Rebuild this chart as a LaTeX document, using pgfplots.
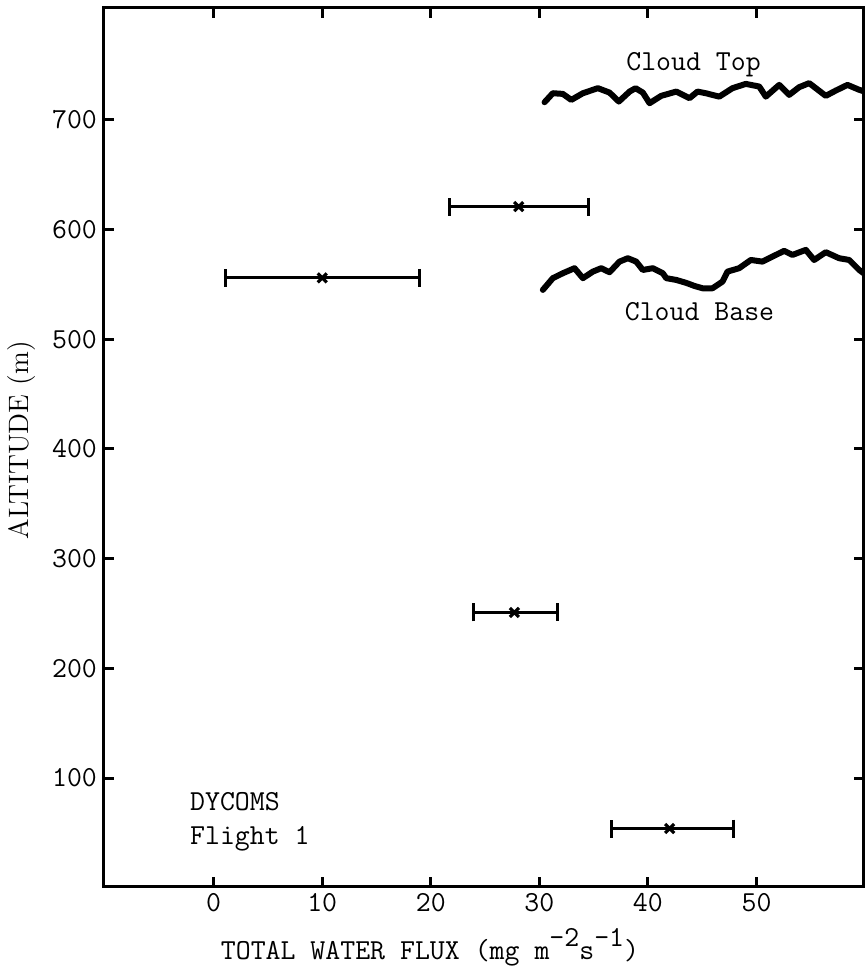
\documentclass[border=0pt]{standalone}
\usepackage{fontspec}
\usepackage{pgfplots}
\pgfplotsset{compat=1.18}
\newcommand{\tw}{\ttfamily\fontsize{14.5}{16.5}\selectfont}
\begin{document}
\begin{tikzpicture}
\begin{axis}[
  at={(0,0)}, anchor=south west,
  width=380pt, height=439.35pt, scale only axis,
  xmin=-10.1, xmax=59.9, ymin=1, ymax=802,
  axis line style={line width=1.5pt},
  xtick={0,10,...,50}, ytick={100,200,...,700},
  tick align=inside, major tick length=5pt,
  tick style={line width=1.5pt, black},
  /pgf/number format/assume math mode=true,
  ticklabel style={font=\tw},
  clip=false,
]
% Cloud top
\addplot[line width=3pt, line join=round, line cap=round] coordinates {
(30.48,716.1) (31.24,724.3) (32.16,723.7) (32.94,718.2) (34.01,724.3)
(35.39,728.9) (36.46,724.9) (37.32,716.7) (38.31,725.8) (38.86,728.9)
(39.53,724.9) (40.15,715.2) (41.22,721.9) (42.61,725.8) (43.83,719.8)
(44.57,725.8) (45.33,724.3) (46.57,721.2) (47.79,728.9) (49.01,732.8)
(50.25,730.4) (50.86,721.2) (52.09,731.9) (53.01,722.8) (53.93,729.8)
(54.85,733.5) (55.46,728.9) (56.38,721.9) (57.30,726.7) (58.38,731.9)
(59.46,727.4) (59.9,726)
};
% Cloud base
\addplot[line width=3pt, line join=round, line cap=round] coordinates {
(30.32,545.0) (31.24,555.7) (32.16,560.2) (33.24,564.8) (34.01,555.7)
(34.93,561.7) (35.70,564.8) (36.46,561.1) (37.38,570.8) (38.15,573.9)
(38.92,570.8) (39.53,563.2) (40.45,564.8) (41.37,560.2) (41.69,555.7)
(42.61,554.1) (43.53,551.4) (44.29,548.6) (45.03,546.5) (45.95,546.5)
(46.87,552.6) (47.33,561.7) (48.40,564.8) (49.48,572.3) (50.55,570.8)
(51.47,575.4) (52.55,580.6) (53.31,576.9) (54.54,581.5) (55.31,572.3)
(56.38,579.4) (57.61,573.9) (58.54,572.3) (59.46,563.2) (59.9,560)
};
% Flux estimates with error bars
\addplot[only marks, mark=x, mark size=3.2pt, mark options={line width=1.6pt},
  error bars/.cd, x dir=both, x explicit,
  error bar style={line width=1.5pt},
  error mark=|,
  error mark options={mark size=4.5pt, line width=1.5pt}]
coordinates {
 (10.0,556) += (9.0,0) -= (8.9,0)
 (28.1,621) += (6.4,0) -= (6.4,0)
 (27.7,251) += (4.0,0) -= (3.8,0)
 (42.0,54) += (5.9,0) -= (5.4,0)
};
\node[font=\tw] at (axis cs:44.2,750) {Cloud Top};
\node[font=\tw] at (axis cs:44.75,525.3) {Cloud Base};
\node[font=\tw, anchor=base west, inner sep=0pt] at (axis cs:-2.2,70.2) {DYCOMS};
\node[font=\tw, anchor=base west, inner sep=0pt] at (axis cs:-2.2,39.2) {Flight 1};
\end{axis}
\node[font=\tw, anchor=base] at (163pt,-36.6pt) {TOTAL WATER FLUX (mg m\raisebox{1.1ex}{-2}s\raisebox{1.1ex}{-1})};
\node[font=\fontsize{14}{16}\selectfont, rotate=90, anchor=center] at (-41pt,223.2pt) {ALTITUDE (m)};
\pgfresetboundingbox
\path (-52pt,-42.15pt) rectangle (380pt,443.35pt);
\end{tikzpicture}
\end{document}
